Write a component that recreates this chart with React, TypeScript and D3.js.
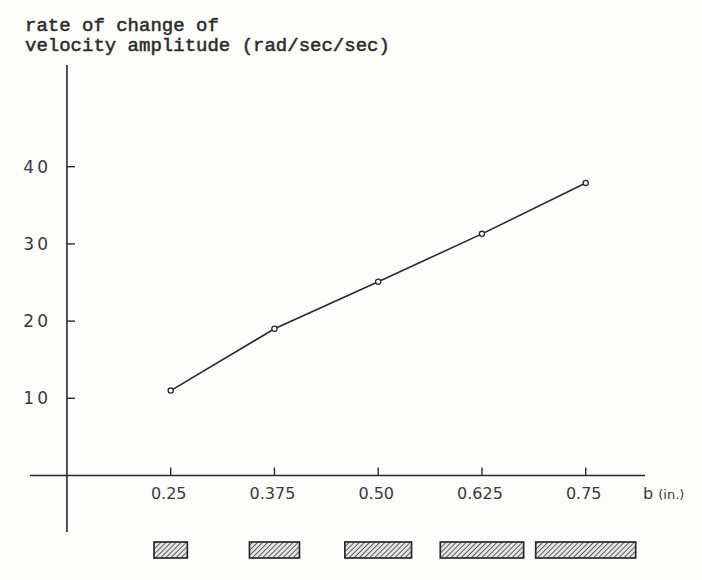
import React, { useEffect, useRef } from 'react';
import { select, scaleLinear, line } from 'd3';

// beam width b (in.) and measured rate of change of velocity amplitude
const bValues = [0.25, 0.375, 0.5, 0.625, 0.75];
const rateValues = [11, 19, 25.1, 31.3, 37.9];
const xTickLabels = ['0.25', '0.375', '0.50', '0.625', '0.75'];
const yTicks = [10, 20, 30, 40];
const titleLines = ['rate of change of', 'velocity amplitude (rad/sec/sec)'];

const W = 702;
const H = 580;
const INK = '#2a2a2a';
const LABEL = '#3a3a3a';

const App = () => {
    const ref = useRef<SVGSVGElement | null>(null);

    useEffect(() => {
        const svg = select(ref.current);
        svg.selectAll('*').remove();

        const x = scaleLinear().domain([0.25, 0.75]).range([170.7, 585.7]);
        const y = scaleLinear().domain([0, 40]).range([475.5, 166.7]);
        // cross-section width drawn in proportion to b
        const w = scaleLinear().domain([0, 0.75]).range([0, 100]);

        const originX = x(0.125);

        svg.append('rect').attr('width', W).attr('height', H).attr('fill', '#fdfdfc');

        const defs = svg.append('defs');
        const pat = defs.append('pattern')
            .attr('id', 'hatch')
            .attr('patternUnits', 'userSpaceOnUse')
            .attr('width', 3.6)
            .attr('height', 3.6)
            .attr('patternTransform', 'rotate(45)');
        pat.append('rect').attr('width', 3.6).attr('height', 3.6).attr('fill', '#e4e4e4');
        pat.append('line')
            .attr('x1', 0).attr('y1', 0).attr('x2', 0).attr('y2', 3.6)
            .attr('stroke', '#444').attr('stroke-width', 1.6);

        // title
        svg.append('text')
            .attr('x', 25)
            .attr('y', 31)
            .attr('font-family', '"Liberation Mono", monospace')
            .attr('font-size', 19)
            .attr('fill', INK)
            .attr('stroke', INK)
            .attr('stroke-width', 0.5)
            .selectAll('tspan')
            .data(titleLines)
            .enter()
            .append('tspan')
            .attr('x', 25)
            .attr('dy', (d, i) => (i === 0 ? 0 : 20))
            .text(d => d);

        // axes
        svg.append('line')
            .attr('x1', originX).attr('x2', originX)
            .attr('y1', 65).attr('y2', 532)
            .attr('stroke', INK).attr('stroke-width', 1.6);
        svg.append('line')
            .attr('x1', 30).attr('x2', 645)
            .attr('y1', y(0)).attr('y2', y(0))
            .attr('stroke', INK).attr('stroke-width', 1.6);

        // y ticks
        const yg = svg.append('g');
        yg.selectAll('line')
            .data(yTicks)
            .enter()
            .append('line')
            .attr('x1', originX).attr('x2', originX + 8)
            .attr('y1', d => y(d)).attr('y2', d => y(d))
            .attr('stroke', INK).attr('stroke-width', 1.4);
        yg.selectAll('text')
            .data(yTicks)
            .enter()
            .append('text')
            .attr('x', 51)
            .attr('y', d => y(d) + 6)
            .attr('text-anchor', 'end')
            .attr('font-family', '"DejaVu Sans", sans-serif')
            .attr('font-size', 17)
            .attr('letter-spacing', 3)
            .attr('fill', LABEL)
            .text(d => d);

        // x ticks
        const xg = svg.append('g');
        xg.selectAll('line')
            .data(bValues)
            .enter()
            .append('line')
            .attr('x1', d => x(d)).attr('x2', d => x(d))
            .attr('y1', y(0)).attr('y2', y(0) - 8)
            .attr('stroke', INK).attr('stroke-width', 1.4);
        xg.selectAll('text')
            .data(bValues)
            .enter()
            .append('text')
            .attr('x', d => x(d) - 2)
            .attr('y', 499)
            .attr('text-anchor', 'middle')
            .attr('font-family', '"DejaVu Sans", sans-serif')
            .attr('font-size', 16)
            .attr('fill', LABEL)
            .text((d, i) => xTickLabels[i]);

        const bl = svg.append('text')
            .attr('x', 643)
            .attr('y', 499)
            .attr('font-family', '"DejaVu Sans", sans-serif')
            .attr('fill', LABEL);
        bl.append('tspan').attr('font-size', 16).text('b ');
        bl.append('tspan').attr('font-size', 13).text('(in.)');

        // data line
        const pts = bValues.map((b, i) => [b, rateValues[i]] as [number, number]);
        svg.append('path')
            .datum(pts)
            .attr('d', line<[number, number]>().x(d => x(d[0])).y(d => y(d[1])))
            .attr('fill', 'none')
            .attr('stroke', INK)
            .attr('stroke-width', 1.6);
        svg.append('g')
            .selectAll('circle')
            .data(pts)
            .enter()
            .append('circle')
            .attr('cx', d => x(d[0]))
            .attr('cy', d => y(d[1]))
            .attr('r', 2.6)
            .attr('fill', '#fff')
            .attr('stroke', INK)
            .attr('stroke-width', 1.3);

        // hatched cross-sections under each b
        svg.append('g')
            .selectAll('rect')
            .data(bValues)
            .enter()
            .append('rect')
            .attr('x', d => x(d) - w(d) / 2)
            .attr('y', 542)
            .attr('width', d => w(d))
            .attr('height', 16)
            .attr('fill', 'url(#hatch)')
            .attr('stroke', INK)
            .attr('stroke-width', 1.7);
    }, []);

    return (
        <svg
            ref={ref}
            width={W}
            height={H}
            style={{ position: 'absolute', left: 0, top: 0 }}
        ></svg>
    );
};

export default App;
